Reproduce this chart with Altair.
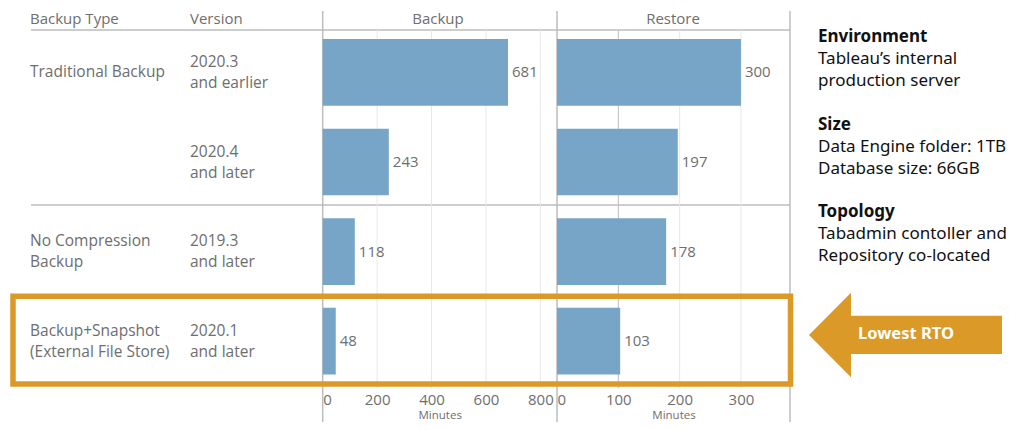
import altair as alt
import pandas as pd

# ---------------- data ----------------
row_ids = ["r1", "r2", "r3", "r4"]
backup_types = ["Traditional Backup", "", "No Compression\nBackup", "Backup+Snapshot\n(External File Store)"]
versions = ["2020.3\nand earlier", "2020.4\nand later", "2019.3\nand later", "2020.1\nand later"]
backup_minutes = [681, 243, 118, 48]
restore_minutes = [300, 197, 178, 103]
backup_ticks = [0, 200, 400, 600, 800]
restore_ticks = [0, 100, 200, 300]
header_titles = ["Backup Type", "Version"]
panel_titles = ["Backup", "Restore"]
axis_title = "Minutes"
note_titles = ["Environment", "Size", "Topology"]
note_bodies = [["Tableau’s internal", "production server"],
               ["Data Engine folder: 1TB", "Database size: 66GB"],
               ["Tabadmin contoller and", "Repository co-located"]]
callout = "Lowest RTO"

df = pd.DataFrame({"row": row_ids, "type": backup_types, "version": versions,
                   "backup": backup_minutes, "restore": restore_minutes})

# ---------------- style ----------------
FONT = "Open Sans"
NOTE_FONT = "Noto Sans"
GRAY = "#6E6E6E"
BLUE = "#76A5C8"
LINE = "#BDBDBD"
GRID = "#E8E8E8"
ORANGE = "#DB9A27"
LH = 21

one = alt.Data(values=[{}])

y_scale = alt.Scale(domain=row_ids, range=[19.6, 378], paddingInner=0.256, paddingOuter=0.128)
bx_scale = alt.Scale(domain=[0, 860], range=[314.7, 548.7], nice=False)
rx_scale = alt.Scale(domain=[0, 380], range=[549, 782], nice=False)
Y = alt.Y("row:N", scale=y_scale, axis=None)


def make_axis(vals):
    return alt.Axis(values=vals, title=axis_title, orient="bottom", grid=False, ticks=False,
                    domain=False, labelFlush=True, labelFont=FONT, labelFontSize=15,
                    labelColor=GRAY, labelPadding=4, titleFont=FONT, titleFontSize=11.5,
                    titleColor=GRAY, titleFontWeight="normal", titlePadding=2)


def panel(field, scale, ticks, border_vals, dark_grid):
    ax = make_axis(ticks)
    grid_df = pd.DataFrame({"t": ticks[1:]})
    grid = alt.Chart(grid_df).mark_rule(strokeWidth=1).encode(
        x=alt.X("t:Q", scale=scale, axis=ax),
        y=alt.value(22), y2=alt.value(380),
        color=alt.condition(alt.FieldOneOfPredicate(field="t", oneOf=dark_grid),
                            alt.value(LINE), alt.value(GRID)))
    border = alt.Chart(pd.DataFrame({"b": border_vals})).mark_rule(color=LINE, strokeWidth=1.5).encode(
        x=alt.X("b:Q", scale=scale, axis=ax), y=alt.value(3), y2=alt.value(414))
    bars = alt.Chart(df).mark_bar(color=BLUE).encode(
        x=alt.X(f"{field}:Q", scale=scale, axis=ax), y=Y)
    labels = alt.Chart(df).mark_text(align="left", baseline="middle", dx=4, font=FONT,
                                     fontSize=15, color=GRAY).encode(
        x=alt.X(f"{field}:Q", scale=scale, axis=ax), y=Y, text=alt.Text(f"{field}:Q"))
    return alt.layer(grid, border, bars, labels)


backup_panel = panel("backup", bx_scale, backup_ticks, [0], [])
restore_panel = panel("restore", rx_scale, restore_ticks, [0, 380], [100])

# ---------------- table text ----------------
tkw = dict(align="left", baseline="middle", font=FONT, fontSize=15.5, color=GRAY,
           lineBreak="\n", lineHeight=LH)
multi = "indexof(datum.type, '\\n') >= 0"
type_multi = alt.Chart(df).transform_filter(multi).mark_text(dy=-LH / 2, **tkw).encode(
    x=alt.value(22), y=Y, text="type:N")
type_single = alt.Chart(df).transform_filter("!(" + multi + ")").mark_text(**tkw).encode(
    x=alt.value(22), y=Y, text="type:N")
version_text = alt.Chart(df).mark_text(dy=-LH / 2, **tkw).encode(
    x=alt.value(182), y=Y, text="version:N")


def label(txt, x, y, align="left", baseline="middle", **kw):
    return alt.Chart(one).mark_text(align=align, baseline=baseline, **kw).encode(
        x=alt.value(x), y=alt.value(y), text=alt.value(txt))


hdr_kw = dict(font=FONT, fontSize=15, color=GRAY)
headers = [label(header_titles[0], 22, 11, **hdr_kw), label(header_titles[1], 182, 11, **hdr_kw),
           label(panel_titles[0], 430, 11, align="center", **hdr_kw),
           label(panel_titles[1], 665, 11, align="center", **hdr_kw)]

hline_header = alt.Chart(one).mark_rule(color=LINE, strokeWidth=1.5).encode(
    x=alt.value(23), x2=alt.value(782), y=alt.value(22))
hline_sep = alt.Chart(one).mark_rule(color=LINE, strokeWidth=1.5).encode(
    x=alt.value(23), x2=alt.value(782), y=alt.value(197))

# ---------------- notes ----------------
title_y = [33.7, 122, 208.7]
notes = []
for t, body, ty in zip(note_titles, note_bodies, title_y):
    notes.append(label(t, 810, ty, baseline="alphabetic", font=NOTE_FONT, fontSize=17,
                       fontWeight="bold", color="#111111"))
    notes.append(alt.Chart(one).mark_text(align="left", baseline="alphabetic", font=NOTE_FONT,
                                          fontSize=17, color="#111111", lineBreak="\n",
                                          lineHeight=22).encode(
        x=alt.value(810), y=alt.value(ty + 21.8), text=alt.value("\n".join(body))))

# ---------------- highlight ----------------
highlight = alt.Chart(one).mark_rect(fillOpacity=0, stroke=ORANGE, strokeWidth=5.5).encode(
    x=alt.value(5), x2=alt.value(782.5), y=alt.value(288.3), y2=alt.value(376))

ARROW = "M-1,0 L-0.565,-0.438 L-0.565,-0.2 L1,-0.2 L1,0.197 L-0.565,0.197 L-0.565,0.438 Z"
arrow = alt.Chart(one).mark_point(shape=ARROW, size=193 ** 2, filled=True, fill=ORANGE,
                                  strokeWidth=0, opacity=1).encode(
    x=alt.value(897.5), y=alt.value(327))
arrow_text = label(callout, 898, 326, align="center", font=NOTE_FONT, fontSize=16.5,
                   fontWeight="bold", color="white")

chart = alt.layer(
    hline_header, hline_sep, backup_panel, restore_panel, type_multi, type_single, version_text,
    *headers, *notes, highlight, arrow, arrow_text
).resolve_scale(x="independent").properties(
    width=1013, height=380,
    autosize=alt.AutoSizeParams(type="none"),
    padding={"left": 0, "right": 0, "top": 0, "bottom": 34},
).configure_view(stroke=None)

chart.save("out.html", embed_options={"renderer": "svg", "actions": False})
